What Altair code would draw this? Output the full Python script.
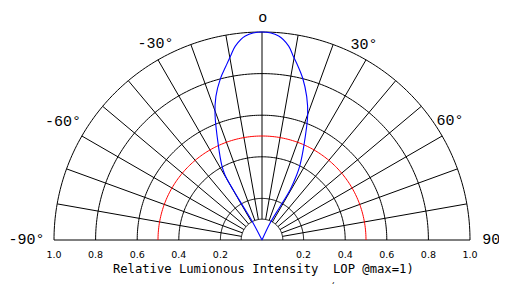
import altair as alt
import numpy as np
import pandas as pd

# ---------------- data ----------------
ring_values = [0.1, 0.2, 0.4, 0.6, 0.8, 1.0]
half_ring = [0.5]
spoke_angles = [-80, -70, -60, -50, -40, -30, -20, -10, 0, 10, 20, 30, 40, 50, 60, 70, 80]
angle_labels = ["-90°", "-60°", "-30°", "o", "30°", "60°", "90°"]
angle_label_deg = [-90, -60, -30, 0, 30, 60, 90]
tick_values = [-1.0, -0.8, -0.6, -0.4, -0.2, 0.2, 0.4, 0.6, 0.8, 1.0]
tick_labels = ["1.0", "0.8", "0.6", "0.4", "0.2", "0.2", "0.4", "0.6", "0.8", "1.0"]
curve_angle = [-27.0, -27.5, -29.3, -29.9, -29.65, -28.25, -24.7, -20.5, -17.8, -14.5,
               -11.7, -9.6, -7.84, -4.68, 0.0, 4.68, 7.84, 9.42, 11.25, 14.13,
               17.32, 20.08, 23.85, 26.87, 28.1, 29.25, 28.4, 25.6, 25.0]
curve_intensity = [0.0, 0.09, 0.184, 0.277, 0.36, 0.409, 0.503, 0.645, 0.725, 0.80,
                   0.854, 0.90, 0.941, 0.984, 1.0, 0.984, 0.941, 0.902, 0.863, 0.802,
                   0.722, 0.640, 0.499, 0.404, 0.354, 0.276, 0.182, 0.089, 0.0]
axis_title = "Relative Lumionous Intensity\u00a0 LOP @max=1)"
stray_text = "("

# ---------------- layout ----------------
W, H = 491, 276
CX, CY, R = 254.0, 232.0, 208.0  # centre / radius in svg pixels
xs = alt.Scale(domain=[-CX / R, (W - CX) / R], nice=False, zero=False)
ys = alt.Scale(domain=[-(H - CY) / R, CY / R], nice=False, zero=False)


def px(x, y):
    """page pixel -> data units"""
    return (x - 8 - CX) / R, (CY - (y - 8)) / R


X = lambda f="x": alt.X(f"{f}:Q", scale=xs, axis=None)
Y = lambda f="y": alt.Y(f"{f}:Q", scale=ys, axis=None)

theta = np.linspace(-90, 90, 181)


def ring_df(vals):
    rows = []
    for r in vals:
        for i, t in enumerate(theta):
            rows.append({"ring": r, "o": i,
                         "x": r * np.sin(np.radians(t)), "y": r * np.cos(np.radians(t))})
    return pd.DataFrame(rows)


rings = alt.Chart(ring_df(ring_values)).mark_line(color="black", strokeWidth=1).encode(
    x=X(), y=Y(), detail="ring:N", order="o:Q")
red = alt.Chart(ring_df(half_ring)).mark_line(color="#ff0000", strokeWidth=1).encode(
    x=X(), y=Y(), detail="ring:N", order="o:Q")

inner, outer = ring_values[0], ring_values[-1]
spk = pd.DataFrame({
    "x": [inner * np.sin(np.radians(a)) for a in spoke_angles],
    "y": [inner * np.cos(np.radians(a)) for a in spoke_angles],
    "x2": [outer * np.sin(np.radians(a)) for a in spoke_angles],
    "y2": [outer * np.cos(np.radians(a)) for a in spoke_angles],
})
spokes = alt.Chart(spk).mark_rule(color="black", strokeWidth=1).encode(
    x=X(), y=Y(), x2="x2:Q", y2="y2:Q")

base = alt.Chart(pd.DataFrame({"x": [-outer], "x2": [outer], "y": [0.0]})).mark_rule(
    color="black", strokeWidth=1).encode(x=X(), x2="x2:Q", y=Y())

cdf = pd.DataFrame({
    "o": range(len(curve_angle)),
    "x": [r * np.sin(np.radians(a)) for a, r in zip(curve_angle, curve_intensity)],
    "y": [r * np.cos(np.radians(a)) for a, r in zip(curve_angle, curve_intensity)],
})
curve = alt.Chart(cdf).mark_line(color="#0000ff", strokeWidth=1.1,
                                 interpolate="catmull-rom").encode(
    x=X(), y=Y(), order="o:Q")

# angle label anchors (page px: centre x, baseline y)
label_anchor = {-90: (26.5, 244.3), -60: (63, 126), -30: (155.5, 48.3), 0: (262.7, 21.7),
                30: (364, 49), 60: (450, 125), 90: (495.7, 243.7)}
ldf = pd.DataFrame({
    "t": angle_labels,
    "x": [px(*label_anchor[a])[0] for a in angle_label_deg],
    "y": [px(*label_anchor[a])[1] for a in angle_label_deg],
})
alabels = alt.Chart(ldf).mark_text(font="Liberation Mono", fontSize=15, color="black",
                                   align="center", baseline="alphabetic").encode(
    x=X(), y=Y(), text="t:N")

tdf = pd.DataFrame({"t": tick_labels, "x": tick_values,
                    "y": [px(0, 258)[1]] * len(tick_values)})
tlabels = alt.Chart(tdf).mark_text(font="DejaVu Sans", fontSize=9.5, color="black",
                                   align="center", baseline="alphabetic").encode(
    x=X(), y=Y(), text="t:N")

ttl_x, ttl_y = px(263.3, 273)
title = alt.Chart(pd.DataFrame({"t": [axis_title], "x": [ttl_x], "y": [ttl_y]})).mark_text(
    font="DejaVu Sans Mono", fontSize=12.2, color="black", align="center",
    baseline="alphabetic").encode(x=X(), y=Y(), text="t:N")

sx, sy = px(333, 289)
stray = alt.Chart(pd.DataFrame({"t": [stray_text], "x": [sx], "y": [sy]})).mark_text(
    font="DejaVu Sans Mono", fontSize=9, color="black", align="center",
    baseline="alphabetic").encode(x=X(), y=Y(), text="t:N")

chart = alt.layer(rings, spokes, base, red, curve, alabels, tlabels, title, stray).properties(
    width=W, height=H, padding=0, background="white",
    autosize=alt.AutoSizeParams(type="none"),
).configure_view(stroke=None)

chart.save("out.html", embed_options={"renderer": "svg", "actions": False})
